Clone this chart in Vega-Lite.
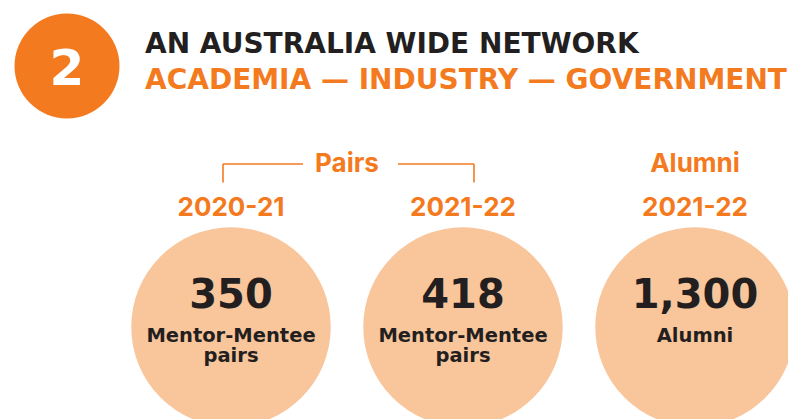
{
  "$schema": "https://vega.github.io/schema/vega-lite/v6.json",
  "width": 788,
  "height": 419,
  "autosize": {"type": "none"},
  "padding": 0,
  "background": "white",
  "config": {"view": {"stroke": null}},
  "datasets": {
    "header": [
      {"badge": "2", "title": "AN AUSTRALIA WIDE NETWORK", "subtitle": "ACADEMIA — INDUSTRY — GOVERNMENT"}
    ],
    "stats": [
      {"slot": "2020-21 pairs", "group": "Pairs", "period": "2020-21", "value": 350, "caption": "Mentor-Mentee\npairs"},
      {"slot": "2021-22 pairs", "group": "Pairs", "period": "2021-22", "value": 418, "caption": "Mentor-Mentee\npairs"},
      {"slot": "2021-22 alumni", "group": "Alumni", "period": "2021-22", "value": 1300, "caption": "Alumni"}
    ],
    "groups": [
      {"group": "Pairs", "slot": "Pairs", "first": "2020-21 pairs", "last": "2021-22 pairs"},
      {"group": "Alumni", "slot": "2021-22 alumni", "first": null, "last": null}
    ]
  },
  "layer": [
    {
      "data": {"name": "header"},
      "layer": [
        {
          "mark": {"type": "circle", "size": 11025, "color": "#F47A20", "opacity": 1, "yOffset": 23.5},
          "encoding": {
            "x": {"datum": "badge", "type": "nominal", "axis": null, "scale": {"type": "point", "domain": ["badge", "heading"], "range": [67, 145], "padding": 0}},
            "y": {"datum": "heading", "type": "nominal", "axis": null, "scale": {"type": "point", "domain": ["heading", "subheading", "gap-1", "group", "period", "gap-2", "figure", "card"], "range": [42.5, 326], "padding": 0}}
          }
        },
        {
          "mark": {"type": "text", "font": "DejaVu Sans", "fontWeight": "bold", "fontSize": 50, "color": "#FFFFFF", "align": "center", "baseline": "alphabetic", "dy": 42.5},
          "encoding": {
            "x": {"datum": "badge", "type": "nominal", "axis": null, "scale": {"type": "point", "domain": ["badge", "heading"], "range": [67, 145], "padding": 0}},
            "y": {"datum": "heading", "type": "nominal", "axis": null, "scale": {"type": "point", "domain": ["heading", "subheading", "gap-1", "group", "period", "gap-2", "figure", "card"], "range": [42.5, 326], "padding": 0}},
            "text": {"field": "badge", "type": "nominal"}
          }
        },
        {
          "mark": {"type": "text", "font": "DejaVu Sans", "fontWeight": "bold", "fontSize": 28, "color": "#231F20", "align": "left", "baseline": "alphabetic", "dy": 10},
          "encoding": {
            "x": {"datum": "heading", "type": "nominal", "axis": null, "scale": {"type": "point", "domain": ["badge", "heading"], "range": [67, 145], "padding": 0}},
            "y": {"datum": "heading", "type": "nominal", "axis": null, "scale": {"type": "point", "domain": ["heading", "subheading", "gap-1", "group", "period", "gap-2", "figure", "card"], "range": [42.5, 326], "padding": 0}},
            "text": {"field": "title", "type": "nominal"}
          }
        },
        {
          "mark": {"type": "text", "font": "DejaVu Sans", "fontWeight": "bold", "fontSize": 28, "color": "#F47A20", "align": "left", "baseline": "alphabetic", "dy": 6},
          "encoding": {
            "x": {"datum": "heading", "type": "nominal", "axis": null, "scale": {"type": "point", "domain": ["badge", "heading"], "range": [67, 145], "padding": 0}},
            "y": {"datum": "subheading", "type": "nominal", "axis": null, "scale": {"type": "point", "domain": ["heading", "subheading", "gap-1", "group", "period", "gap-2", "figure", "card"], "range": [42.5, 326], "padding": 0}},
            "text": {"field": "subtitle", "type": "nominal"}
          }
        }
      ]
    },
    {
      "layer": [
        {
          "data": {"name": "groups"},
          "transform": [{"filter": "datum.first != null"}],
          "layer": [
            {
              "mark": {"type": "rule", "color": "#F47A20", "strokeWidth": 1.6, "xOffset": -8, "x2Offset": -44},
              "encoding": {
                "x": {"field": "first", "type": "nominal", "axis": null, "scale": {"type": "point", "domain": ["2020-21 pairs", "Pairs", "2021-22 pairs", "gap", "2021-22 alumni"], "range": [231, 695], "padding": 0}},
                "x2": {"field": "slot"},
                "y": {"datum": "group", "type": "nominal", "axis": null, "scale": {"type": "point", "domain": ["heading", "subheading", "gap-1", "group", "period", "gap-2", "figure", "card"], "range": [42.5, 326], "padding": 0}}
              }
            },
            {
              "mark": {"type": "rule", "color": "#F47A20", "strokeWidth": 1.6, "xOffset": 51, "x2Offset": 11},
              "encoding": {
                "x": {"field": "slot", "type": "nominal", "axis": null, "scale": {"type": "point", "domain": ["2020-21 pairs", "Pairs", "2021-22 pairs", "gap", "2021-22 alumni"], "range": [231, 695], "padding": 0}},
                "x2": {"field": "last"},
                "y": {"datum": "group", "type": "nominal", "axis": null, "scale": {"type": "point", "domain": ["heading", "subheading", "gap-1", "group", "period", "gap-2", "figure", "card"], "range": [42.5, 326], "padding": 0}}
              }
            },
            {
              "mark": {"type": "rule", "color": "#F47A20", "strokeWidth": 1.6, "xOffset": -8, "y2Offset": -22},
              "encoding": {
                "x": {"field": "first", "type": "nominal", "axis": null, "scale": {"type": "point", "domain": ["2020-21 pairs", "Pairs", "2021-22 pairs", "gap", "2021-22 alumni"], "range": [231, 695], "padding": 0}},
                "y": {"datum": "group", "type": "nominal", "axis": null, "scale": {"type": "point", "domain": ["heading", "subheading", "gap-1", "group", "period", "gap-2", "figure", "card"], "range": [42.5, 326], "padding": 0}},
                "y2": {"datum": "period"}
              }
            },
            {
              "mark": {"type": "rule", "color": "#F47A20", "strokeWidth": 1.6, "xOffset": 11, "y2Offset": -22},
              "encoding": {
                "x": {"field": "last", "type": "nominal", "axis": null, "scale": {"type": "point", "domain": ["2020-21 pairs", "Pairs", "2021-22 pairs", "gap", "2021-22 alumni"], "range": [231, 695], "padding": 0}},
                "y": {"datum": "group", "type": "nominal", "axis": null, "scale": {"type": "point", "domain": ["heading", "subheading", "gap-1", "group", "period", "gap-2", "figure", "card"], "range": [42.5, 326], "padding": 0}},
                "y2": {"datum": "period"}
              }
            }
          ]
        },
        {
          "data": {"name": "groups"},
          "mark": {"type": "text", "font": "Inter", "fontWeight": "bold", "fontSize": 26, "color": "#F47A20", "align": "center", "baseline": "alphabetic", "dy": 8},
          "encoding": {
            "x": {"field": "slot", "type": "nominal", "axis": null, "scale": {"type": "point", "domain": ["2020-21 pairs", "Pairs", "2021-22 pairs", "gap", "2021-22 alumni"], "range": [231, 695], "padding": 0}},
            "y": {"datum": "group", "type": "nominal", "axis": null, "scale": {"type": "point", "domain": ["heading", "subheading", "gap-1", "group", "period", "gap-2", "figure", "card"], "range": [42.5, 326], "padding": 0}},
            "text": {"field": "group", "type": "nominal"}
          }
        },
        {
          "data": {"name": "stats"},
          "mark": {"type": "circle", "size": 39800, "color": "#F9C59B", "opacity": 1, "yOffset": 1},
          "encoding": {
            "x": {"field": "slot", "type": "nominal", "axis": null, "scale": {"type": "point", "domain": ["2020-21 pairs", "Pairs", "2021-22 pairs", "gap", "2021-22 alumni"], "range": [231, 695], "padding": 0}},
            "y": {"datum": "card", "type": "nominal", "axis": null, "scale": {"type": "point", "domain": ["heading", "subheading", "gap-1", "group", "period", "gap-2", "figure", "card"], "range": [42.5, 326], "padding": 0}}
          }
        },
        {
          "data": {"name": "stats"},
          "mark": {"type": "text", "font": "Inter", "fontWeight": "bold", "fontSize": 26, "color": "#F47A20", "align": "center", "baseline": "alphabetic", "dy": 11.5},
          "encoding": {
            "x": {"field": "slot", "type": "nominal", "axis": null, "scale": {"type": "point", "domain": ["2020-21 pairs", "Pairs", "2021-22 pairs", "gap", "2021-22 alumni"], "range": [231, 695], "padding": 0}},
            "y": {"datum": "period", "type": "nominal", "axis": null, "scale": {"type": "point", "domain": ["heading", "subheading", "gap-1", "group", "period", "gap-2", "figure", "card"], "range": [42.5, 326], "padding": 0}},
            "text": {"field": "period", "type": "nominal"}
          }
        },
        {
          "data": {"name": "stats"},
          "mark": {"type": "text", "font": "DejaVu Sans", "fontWeight": "bold", "fontSize": 40, "color": "#231F20", "align": "center", "baseline": "alphabetic", "dy": 22},
          "encoding": {
            "x": {"field": "slot", "type": "nominal", "axis": null, "scale": {"type": "point", "domain": ["2020-21 pairs", "Pairs", "2021-22 pairs", "gap", "2021-22 alumni"], "range": [231, 695], "padding": 0}},
            "y": {"datum": "figure", "type": "nominal", "axis": null, "scale": {"type": "point", "domain": ["heading", "subheading", "gap-1", "group", "period", "gap-2", "figure", "card"], "range": [42.5, 326], "padding": 0}},
            "text": {"field": "value", "type": "quantitative", "format": ","}
          }
        },
        {
          "data": {"name": "stats"},
          "mark": {"type": "text", "font": "DejaVu Sans", "fontWeight": "bold", "fontSize": 19.5, "color": "#231F20", "align": "center", "baseline": "alphabetic", "dy": 16, "lineBreak": "\n", "lineHeight": 19.5},
          "encoding": {
            "x": {"field": "slot", "type": "nominal", "axis": null, "scale": {"type": "point", "domain": ["2020-21 pairs", "Pairs", "2021-22 pairs", "gap", "2021-22 alumni"], "range": [231, 695], "padding": 0}},
            "y": {"datum": "card", "type": "nominal", "axis": null, "scale": {"type": "point", "domain": ["heading", "subheading", "gap-1", "group", "period", "gap-2", "figure", "card"], "range": [42.5, 326], "padding": 0}},
            "text": {"field": "caption", "type": "nominal"}
          }
        }
      ]
    }
  ],
  "resolve": {"scale": {"x": "independent"}}
}
